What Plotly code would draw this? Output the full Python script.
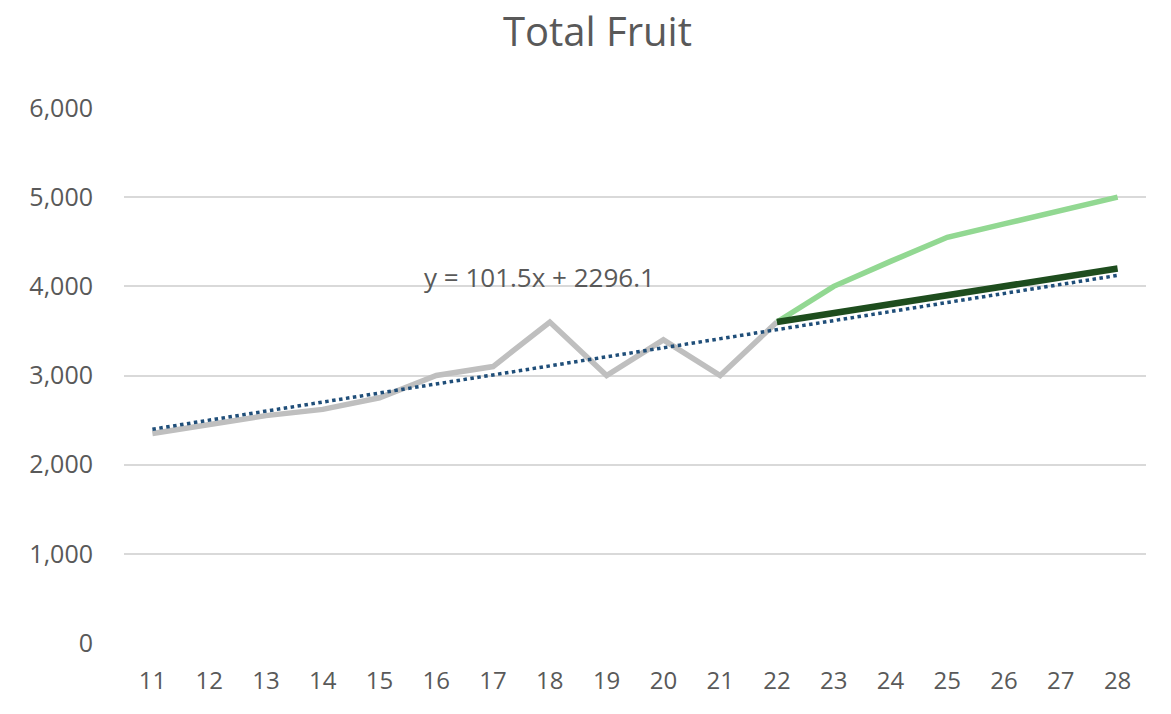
import plotly.graph_objects as go

years = [11, 12, 13, 14, 15, 16, 17, 18, 19, 20, 21, 22, 23, 24, 25, 26, 27, 28]
history_years = [11, 12, 13, 14, 15, 16, 17, 18, 19, 20, 21, 22]
history = [2350, 2450, 2550, 2620, 2750, 3000, 3100, 3600, 3000, 3400, 3000, 3600]
forecast_years = [22, 23, 24, 25, 26, 27, 28]
forecast_high = [3600, 4000, 4280, 4550, 4700, 4850, 5000]
forecast_base = [3600, 3700, 3790, 3900, 3990, 4100, 4200]
trend_slope = 101.5
trend_intercept = 2296.1
y_ticks = [0, 1000, 2000, 3000, 4000, 5000, 6000]

trend_y = [trend_intercept + trend_slope * (i + 1) for i in range(len(years))]

FONT = "Open Sans"
GREY_TEXT = "#595959"

fig = go.Figure()
fig.add_trace(go.Scatter(x=history_years, y=history, mode="lines",
                         line=dict(color="#bfbfbf", width=5.5), showlegend=False))
fig.add_trace(go.Scatter(x=forecast_years, y=forecast_high, mode="lines",
                         line=dict(color="#92d892", width=5.5), showlegend=False))
fig.add_trace(go.Scatter(x=forecast_years, y=forecast_base, mode="lines",
                         line=dict(color="#1e4d1e", width=6.5), showlegend=False))
fig.add_trace(go.Scatter(x=years, y=trend_y, mode="lines",
                         line=dict(color="#1f4e79", width=3.5, dash="dot"),
                         showlegend=False, hoverinfo="skip"))

fig.add_annotation(text="y = 101.5x + 2296.1", xref="paper", yref="paper",
                   x=0.407, y=0.684, xanchor="center", yanchor="middle", showarrow=False,
                   font=dict(family=FONT, size=26, color=GREY_TEXT))

# chart title
fig.add_annotation(text="Total Fruit", xref="paper", yref="paper",
                   x=0.463, y=1.145, xanchor="center", yanchor="middle", showarrow=False,
                   font=dict(family=FONT, size=40, color=GREY_TEXT))

fig.update_layout(
    width=1171, height=714,
    margin=dict(l=116, r=33, t=100, b=79),
    paper_bgcolor="white", plot_bgcolor="white",
    xaxis=dict(range=[10.5, 28.5], tickvals=years, ticktext=[str(v) for v in years],
               showgrid=False, zeroline=False, showline=False, ticks="",
               tickfont=dict(family=FONT, size=24, color=GREY_TEXT)),
    yaxis=dict(range=[0, 6000], tickvals=y_ticks,
               ticktext=[f"{v:,}" for v in y_ticks],
               showgrid=True, gridcolor="#d9d9d9", gridwidth=1.5,
               zeroline=False, showline=False, ticks="", ticklen=0,
               tickfont=dict(family=FONT, size=25, color=GREY_TEXT)),
)
fig.update_yaxes(ticklabelstandoff=30)
fig.update_xaxes(ticklabelstandoff=21)

fig.write_html("out.html")
